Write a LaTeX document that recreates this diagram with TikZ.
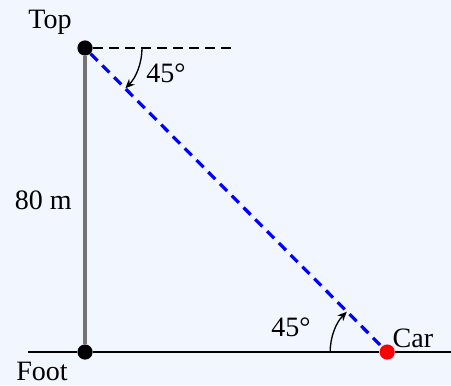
\documentclass[tikz,border=0pt]{standalone}
\usepackage{fontspec}
\setmainfont{Liberation Serif}
\usetikzlibrary{arrows.meta,calc,positioning}
\definecolor{bgblue}{RGB}{242,247,255}

\begin{document}
\begin{tikzpicture}[
  font=\fontsize{21}{25}\selectfont,
  dot/.style={circle, fill=black, inner sep=0pt, minimum size=0.4cm},
  cardot/.style={dot, fill=red},
  pole/.style={line width=3.2pt, gray!90!black},
  ground/.style={line width=2pt},
  sight/.style={line width=2.4pt, blue, dash pattern=on 7.5pt off 5pt},
  level/.style={line width=2pt, dash pattern=on 7.5pt off 4.5pt},
  arr/.style={-{Stealth[length=7pt,width=6pt]}, line width=1pt}
]
\fill[bgblue] (-2.237,-0.868) rectangle (9.63,9.263);
\useasboundingbox (-2.237,-0.868) rectangle (9.63,9.263);

\coordinate (gl) at (-1.5,0);
\coordinate (gr) at (9.63,0);
\coordinate (lv) at (4,8);

\node[dot] (foot) at (0,0) {};
\node[dot] (top) at (0,8) {};
\node[cardot] (car) at (7.95,0) {};

% angle marks first, the sight line covers their ends
\draw[arr] ($(top.center)+(1.5,0)$) arc[start angle=0, end angle=-45, radius=1.5];
\draw[arr] ($(car.center)+(-1.5,0)$) arc[start angle=180, end angle=135, radius=1.5];

\draw[ground] (gl) -- (foot) -- (car) -- (gr);
\draw[pole] (foot) -- (top);
\draw[level] (top) -- (lv);
\draw[sight] (top) -- (car);

\node (toplbl) at (-0.92,8.68) {Top};
\node (footlbl) at (-1.13,-0.5) {Foot};
\node (carlbl) at (8.63,0.37) {Car};
\node (height) at (-1.1,4) {80 m};
\node (angtop) at (2.13,7.34) {45°};
\node (angcar) at (5.42,0.66) {45°};
\end{tikzpicture}
\end{document}
